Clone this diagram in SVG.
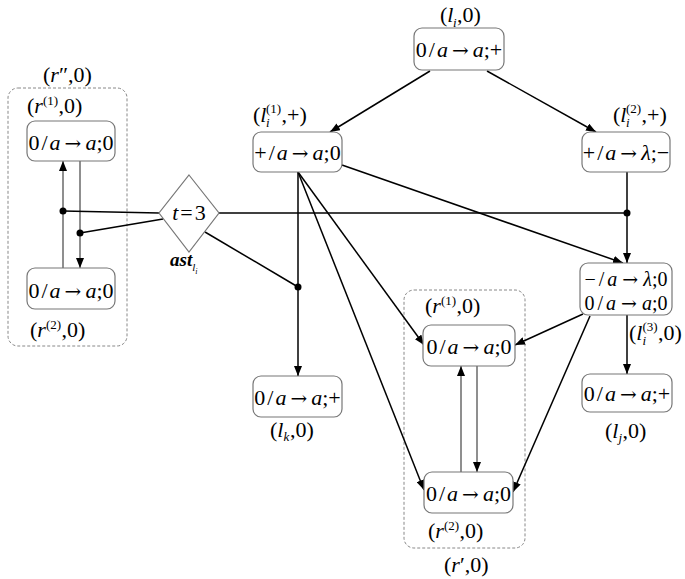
<svg xmlns="http://www.w3.org/2000/svg" width="685" height="579" viewBox="0 0 685 579">
<defs>
<marker id="ah" markerWidth="10" markerHeight="8" refX="10" refY="4" orient="auto" markerUnits="userSpaceOnUse">
<path d="M0,0 L10,4 L0,8 z" fill="#000"/>
</marker>
<style>
.box{fill:#fff;stroke:#777;stroke-width:1.2}
.grp{fill:none;stroke:#888;stroke-width:1;stroke-dasharray:3,2}
.c{stroke:#000;stroke-width:1.5;fill:none}
.c2{stroke:#333;stroke-width:1.1;fill:none}
.arr{marker-end:url(#ah)}
.ar{font-family:'DejaVu Serif',serif;font-size:20px}
.it{font-style:italic}
</style>
</defs>
<rect width="685" height="579" fill="#fff"/>

<g font-family="'Liberation Serif', 'Times New Roman', serif" font-size="22" fill="#000">

<!-- groups -->
<g id="group-r2">
<rect class="grp" x="8" y="88" width="119" height="258" rx="10"/>
<text x="43" y="82">(<tspan font-style="italic">r</tspan>″,0)</text>
</g>
<g id="group-r1">
<rect class="grp" x="404" y="290" width="121" height="258" rx="10"/>
<text x="444" y="572">(<tspan font-style="italic">r</tspan>′,0)</text>
</g>

<!-- connectors -->
<g id="connectors">
<line class="c arr" x1="430" y1="71" x2="330" y2="132"/>
<line class="c arr" x1="487" y1="71" x2="596" y2="132"/>
<line class="c arr" x1="627" y1="172" x2="627" y2="263"/>
<line class="c arr" x1="342" y1="165" x2="623" y2="263"/>
<line class="c arr" x1="298" y1="172" x2="298" y2="376"/>
<line class="c arr" x1="298" y1="172" x2="424" y2="345"/>
<line class="c arr" x1="298" y1="172" x2="424" y2="490"/>
<line class="c arr" x1="583" y1="314" x2="515" y2="345"/>
<line class="c arr" x1="590" y1="316" x2="513" y2="492"/>
<line class="c arr" x1="627" y1="315" x2="627" y2="374"/>
<line class="c2 arr" x1="63" y1="268" x2="63" y2="161"/>
<line class="c2 arr" x1="80" y1="161" x2="80" y2="268"/>
<line class="c2 arr" x1="461" y1="472" x2="461" y2="366"/>
<line class="c2 arr" x1="477" y1="366" x2="477" y2="472"/>
<line class="c" x1="63" y1="211" x2="159" y2="213"/>
<line class="c" x1="219" y1="213" x2="627" y2="213"/>
<line class="c" x1="80" y1="233" x2="163" y2="219"/>
<line class="c" x1="205" y1="232" x2="298" y2="287"/>
<circle cx="63" cy="211" r="3.5" fill="#000"/>
<circle cx="80" cy="233" r="3.5" fill="#000"/>
<circle cx="627" cy="213" r="3.5" fill="#000"/>
<circle cx="298" cy="287" r="3.5" fill="#000"/>
</g>

<!-- nodes -->
<g id="n-li">
<rect class="box" x="414" y="28" width="90" height="42" rx="8"/>
<text x="459" y="57" text-anchor="middle">0<tspan dx="2">/</tspan><tspan dx="2" class="it">a</tspan><tspan dx="4" class="ar">→</tspan><tspan dx="4" class="it">a</tspan>;+</text>
<text x="440" y="22">(<tspan class="it">l</tspan><tspan font-size="13" class="it" x="453" y="27">i</tspan><tspan x="457" y="22">,0)</tspan></text>
</g>
<g id="n-li1">
<rect class="box" x="253" y="132" width="89" height="40" rx="8"/>
<text x="297.5" y="160" text-anchor="middle">+<tspan dx="2">/</tspan><tspan dx="2" class="it">a</tspan><tspan dx="4" class="ar">→</tspan><tspan dx="4" class="it">a</tspan>;0</text>
<text x="253" y="122">(<tspan class="it">l</tspan><tspan font-size="13" x="266" y="113">(1)</tspan><tspan font-size="13" class="it" x="266" y="127">i</tspan><tspan x="281.5" y="122">,+)</tspan></text>
</g>
<g id="n-li2">
<rect class="box" x="582" y="132" width="88" height="40" rx="8"/>
<text x="626" y="160" text-anchor="middle">+<tspan dx="2">/</tspan><tspan dx="2" class="it">a</tspan><tspan dx="4" class="ar">→</tspan><tspan dx="4" class="it">λ</tspan>;−</text>
<text x="613" y="122">(<tspan class="it">l</tspan><tspan font-size="13" x="626" y="113">(2)</tspan><tspan font-size="13" class="it" x="626" y="127">i</tspan><tspan x="641.5" y="122">,+)</tspan></text>
</g>
<g id="n-r1-left">
<rect class="box" x="27" y="121" width="88" height="40" rx="8"/>
<text x="71" y="150" text-anchor="middle">0<tspan dx="2">/</tspan><tspan dx="2" class="it">a</tspan><tspan dx="4" class="ar">→</tspan><tspan dx="4" class="it">a</tspan>;0</text>
<text x="27" y="113">(<tspan class="it">r</tspan><tspan font-size="13" x="43" y="105">(1)</tspan><tspan x="58.5" y="113">,0)</tspan></text>
</g>
<g id="n-r2-left">
<rect class="box" x="27" y="268" width="88" height="41" rx="8"/>
<text x="71" y="298" text-anchor="middle">0<tspan dx="2">/</tspan><tspan dx="2" class="it">a</tspan><tspan dx="4" class="ar">→</tspan><tspan dx="4" class="it">a</tspan>;0</text>
<text x="30" y="337">(<tspan class="it">r</tspan><tspan font-size="13" x="46" y="329">(2)</tspan><tspan x="61.5" y="337">,0)</tspan></text>
</g>
<g id="n-ast">
<polygon points="189,175 219,213 189,252 159,213" fill="#fff" stroke="#777" stroke-width="1.2"/>
<text x="189" y="220" text-anchor="middle"><tspan class="it">t</tspan><tspan dx="2">=</tspan><tspan dx="2">3</tspan></text>
<text x="170" y="266" font-style="italic" font-weight="bold" font-size="19">ast<tspan font-size="11" font-weight="normal" y="271">l</tspan><tspan font-size="8" font-weight="normal" y="274">i</tspan></text>
</g>
<g id="n-lk">
<rect class="box" x="253" y="376" width="89" height="41" rx="8"/>
<text x="297.5" y="405" text-anchor="middle">0<tspan dx="2">/</tspan><tspan dx="2" class="it">a</tspan><tspan dx="4" class="ar">→</tspan><tspan dx="4" class="it">a</tspan>;+</text>
<text x="270" y="437">(<tspan class="it">l</tspan><tspan font-size="13" class="it" x="283.4" y="441">k</tspan><tspan x="290" y="437">,0)</tspan></text>
</g>
<g id="n-r1">
<rect class="box" x="423" y="325" width="92" height="41" rx="8"/>
<text x="469" y="354" text-anchor="middle">0<tspan dx="2">/</tspan><tspan dx="2" class="it">a</tspan><tspan dx="4" class="ar">→</tspan><tspan dx="4" class="it">a</tspan>;0</text>
<text x="425" y="313">(<tspan class="it">r</tspan><tspan font-size="13" x="441" y="305">(1)</tspan><tspan x="456.5" y="313">,0)</tspan></text>
</g>
<g id="n-r2">
<rect class="box" x="424" y="472" width="89" height="41" rx="8"/>
<text x="468.5" y="501" text-anchor="middle">0<tspan dx="2">/</tspan><tspan dx="2" class="it">a</tspan><tspan dx="4" class="ar">→</tspan><tspan dx="4" class="it">a</tspan>;0</text>
<text x="428" y="538">(<tspan class="it">r</tspan><tspan font-size="13" x="444" y="530">(2)</tspan><tspan x="459.5" y="538">,0)</tspan></text>
</g>
<g id="n-li3">
<rect class="box" x="580" y="263" width="92" height="52" rx="8"/>
<text x="626" y="286" text-anchor="middle" font-size="20">−<tspan dx="3">/</tspan><tspan dx="3" class="it">a</tspan><tspan dx="5" class="ar" style="font-size:19px">→</tspan><tspan dx="5" class="it">λ</tspan>;0</text>
<text x="626" y="310" text-anchor="middle" font-size="20">0<tspan dx="3">/</tspan><tspan dx="3" class="it">a</tspan><tspan dx="5" class="ar" style="font-size:19px">→</tspan><tspan dx="5" class="it">a</tspan>;0</text>
<text x="629" y="340">(<tspan class="it">l</tspan><tspan font-size="13" x="642.4" y="331">(3)</tspan><tspan font-size="13" class="it" x="642.4" y="345">i</tspan><tspan x="658" y="340">,0)</tspan></text>
</g>
<g id="n-lj">
<rect class="box" x="582" y="374" width="90" height="38" rx="8"/>
<text x="627" y="401" text-anchor="middle">0<tspan dx="2">/</tspan><tspan dx="2" class="it">a</tspan><tspan dx="4" class="ar">→</tspan><tspan dx="4" class="it">a</tspan>;+</text>
<text x="605" y="438">(<tspan class="it">l</tspan><tspan font-size="13" class="it" x="618.4" y="442">j</tspan><tspan x="622.5" y="438">,0)</tspan></text>
</g>
</g>
</svg>
